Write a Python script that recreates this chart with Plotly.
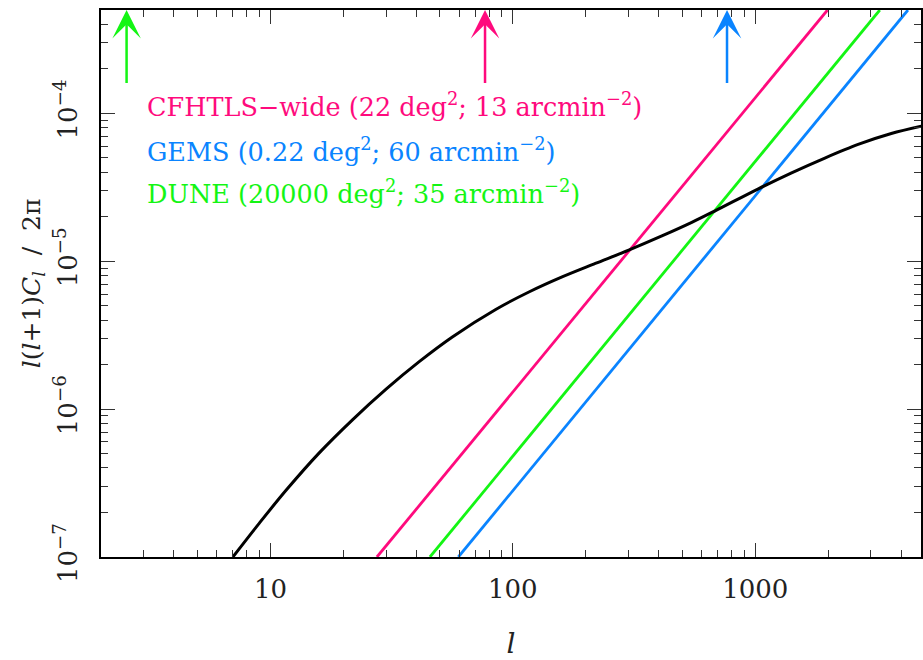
import numpy as np
import plotly.graph_objects as go

# Convergence power spectrum l(l+1)C_l/2pi
ell_signal = [7.0, 9.02, 11.6, 15.9, 21.8, 30.0, 41.1, 56.3, 85.0, 116.5, 159.7,
              219, 300.6, 412, 547.5, 683.6, 1030, 1413, 1938, 2658, 3643, 4842]
cl_signal = [1.0e-7, 1.702e-7, 2.825e-7, 5.06e-7, 8.47e-7, 1.365e-6, 2.094e-6, 3.076e-6,
             4.72e-6, 6.194e-6, 7.834e-6, 9.66e-6, 1.189e-5, 1.483e-5, 1.832e-5,
             2.193e-5, 3.09e-5, 3.963e-5, 4.989e-5, 6.166e-5, 7.31e-5, 8.185e-5]

# Shape-noise power spectra for the three surveys (end points of each line)
ell_cfhtls = [27.5, 1987]
noise_cfhtls = [1e-7, 5e-4]
ell_gems = [59.6, 4266]
noise_gems = [1e-7, 5e-4]
ell_dune = [45.5, 3266]
noise_dune = [1e-7, 5e-4]

# Lowest multipole reached by each survey
lmin_dune = 2.55
lmin_cfhtls = 76.8
lmin_gems = 765

survey_labels = [
    "CFHTLS\u2212wide (22 deg<sup>2</sup>; 13 arcmin<sup>\u22122</sup>)",
    "GEMS (0.22 deg<sup>2</sup>; 60 arcmin<sup>\u22122</sup>)",
    "DUNE (20000 deg<sup>2</sup>; 35 arcmin<sup>\u22122</sup>)",
]

PINK = "#ff0a7d"
BLUE = "#0a84ff"
GREEN = "#14f514"
FONT = "DejaVu Serif"

x_ticks = [10, 100, 1000]
x_ticktext = ["10", "100", "1000"]
y_ticks = [1e-7, 1e-6, 1e-5, 1e-4]
y_ticktext = ["10<sup>\u22127</sup>", "10<sup>\u22126</sup>", "10<sup>\u22125</sup>", "10<sup>\u22124</sup>"]

fig = go.Figure()
fig.add_trace(go.Scatter(x=ell_cfhtls, y=noise_cfhtls, mode="lines",
                         line=dict(color=PINK, width=2.8), cliponaxis=True))
fig.add_trace(go.Scatter(x=ell_dune, y=noise_dune, mode="lines",
                         line=dict(color=GREEN, width=2.8), cliponaxis=True))
fig.add_trace(go.Scatter(x=ell_gems, y=noise_gems, mode="lines",
                         line=dict(color=BLUE, width=2.8), cliponaxis=True))
fig.add_trace(go.Scatter(x=ell_signal, y=cl_signal, mode="lines",
                         line=dict(color="black", width=3, shape="spline", smoothing=0.9),
                         cliponaxis=True))

# Arrows marking the largest scale each survey can probe
arrow_base = 1.57e-4
arrow_tip = 5e-4
for lm, col in [(lmin_dune, GREEN), (lmin_cfhtls, PINK), (lmin_gems, BLUE)]:
    fig.add_annotation(x=np.log10(lm), y=np.log10(arrow_tip), ax=np.log10(lm),
                       ay=np.log10(arrow_base), xref="x", yref="y", axref="x", ayref="y",
                       text="", showarrow=True, arrowhead=3, arrowsize=1.9,
                       arrowwidth=2.5, arrowcolor=col, standoff=0, startstandoff=0)

for txt, col, yp in zip(survey_labels, [PINK, BLUE, GREEN], [0.826, 0.7446, 0.6667]):
    fig.add_annotation(x=0.0535, y=yp, xref="paper", yref="paper", text=txt,
                       showarrow=False, xanchor="left", yanchor="middle",
                       font=dict(family=FONT, size=25.5, color=col))

axis_common = dict(
    type="log", showgrid=False, zeroline=False, showline=True, linecolor="black",
    linewidth=1.5, mirror="allticks", ticks="inside", ticklen=14, tickwidth=1.2,
    tickcolor="#333333", tickfont=dict(family=FONT, size=26, color="#222222"),
    minor=dict(ticks="inside", ticklen=7, tickwidth=1.2, tickcolor="#333333",
               dtick="D1", showgrid=False),
)

fig.update_layout(
    width=923, height=660, paper_bgcolor="white", plot_bgcolor="white",
    margin=dict(l=101, r=0, t=10, b=98), showlegend=False,
    xaxis=dict(axis_common, range=[np.log10(2), np.log10(4830)], tickvals=x_ticks,
               ticktext=x_ticktext, ticklabelstandoff=8,
               title=dict(text="<i>l</i>", font=dict(family=FONT, size=28, color="#222222"),
                          standoff=36)),
    yaxis=dict(axis_common, range=[-7, np.log10(5e-4)], tickvals=y_ticks,
               ticktext=y_ticktext, tickangle=-90, ticklabelstandoff=12,
               title=dict(text="<i>l</i>(<i>l</i>+1)<i>C</i><sub><i>l</i></sub>  /  2\u03c0",
                          font=dict(family=FONT, size=25, color="#222222"), standoff=0)),
)

fig.write_html("out.html")
